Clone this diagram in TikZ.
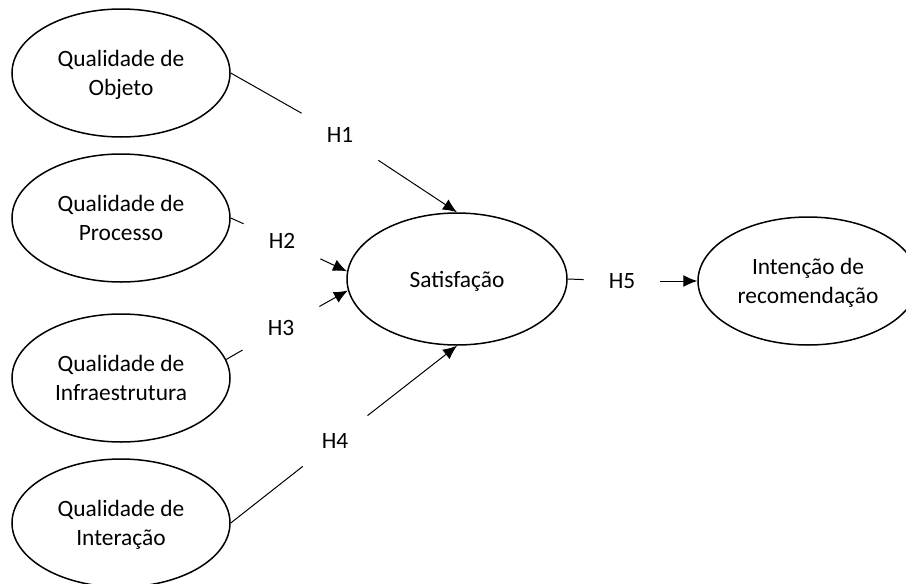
\documentclass[tikz,border=0pt]{standalone}
\usepackage{fontspec}
\setmainfont{Carlito}
\usetikzlibrary{shapes.geometric,arrows.meta}
\begin{document}
\begin{tikzpicture}[x=0.5pt,y=-0.5pt,
  construct/.style={draw,ellipse,line width=0.75pt,minimum width=109pt,minimum height=64pt,inner sep=0pt,text depth=0pt,align=center,font=\fontsize{11.7}{14.5}\selectfont},
  hyp/.style={rectangle,minimum width=38pt,minimum height=25pt,inner sep=0pt,font=\fontsize{11.7}{14.5}\selectfont},
  link/.style={line width=0.5pt},
  >={Latex[length=7pt,width=6pt]}]
\useasboundingbox (0,0) rectangle (906,584);

\node[construct] (objeto) at (121,73) {Qualidade de\\Objeto};
\node[construct] (processo) at (121,218) {Qualidade de\\Processo};
\node[construct] (infra) at (121,378) {Qualidade de\\Infraestrutura};
\node[construct] (interacao) at (121,523) {Qualidade de\\Intera\c{c}\~ao};
\node[construct,minimum width=110pt,minimum height=66pt] (satisf) at (457,279) {Satisfa\c{c}\~ao};
\node[construct,minimum width=110pt] (intencao) at (808,281) {Inten\c{c}\~ao de\\recomenda\c{c}\~ao};

\node[hyp] (h1) at (340,135) {H1};
\node[hyp] (h2) at (282,241) {H2};
\node[hyp] (h3) at (281,328) {H3};
\node[hyp] (h4) at (335,441) {H4};
\node[hyp] (h5) at (622,281) {H5};

\draw[link] (objeto.east) -- (h1);
\draw[link,->] (h1) -- (satisf.north);
\draw[link] (processo.east) -- (h2);
\draw[link,->] (h2) -- (satisf.176);
\draw[link] (infra.10) -- (h3);
\draw[link,->] (h3) -- (satisf.186);
\draw[link] (interacao.east) -- (h4);
\draw[link,->] (h4) -- (satisf.south);
\draw[link] (satisf.east) -- (h5);
\draw[link,->] (h5) -- (intencao.west);
\end{tikzpicture}
\end{document}
